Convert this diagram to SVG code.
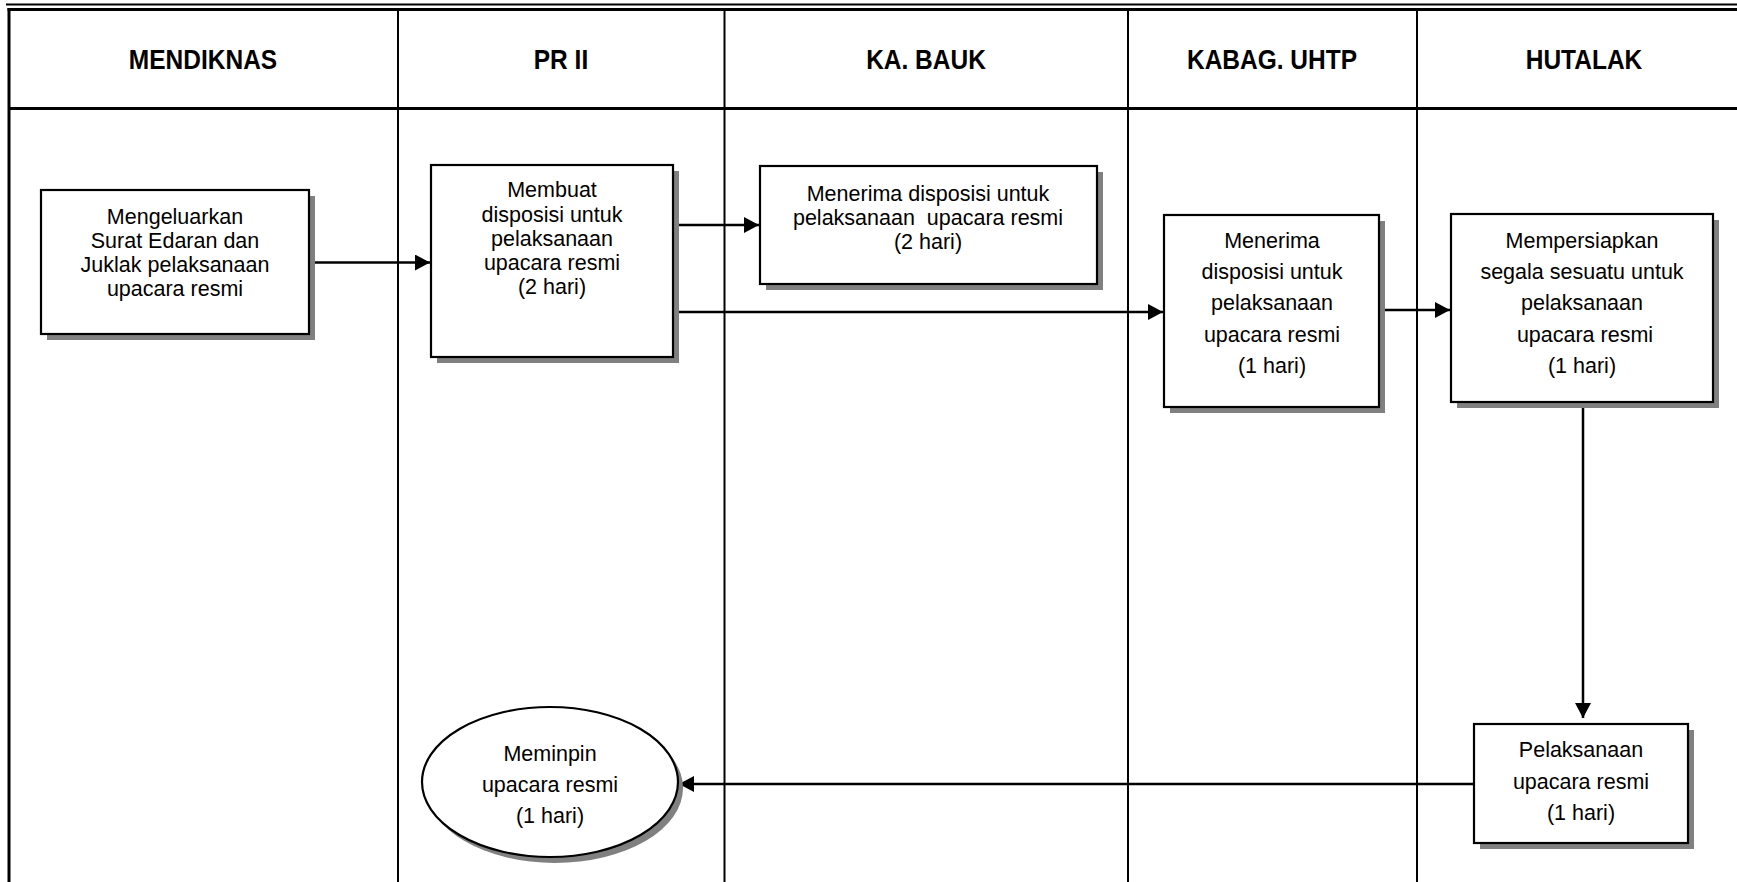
<svg xmlns="http://www.w3.org/2000/svg" width="1737" height="882" viewBox="0 0 1737 882">
  <style>
    .frame { stroke: #000; fill: none; }
    .hdr { font-family: "Liberation Sans", Arial, sans-serif; font-weight: bold; font-size: 24.5px; text-anchor: middle; fill: #000; }
    .lbl { font-family: "Liberation Sans", Arial, sans-serif; font-size: 21.5px; text-anchor: middle; fill: #000; }
    .box { fill: #fff; stroke: #000; stroke-width: 2.2; }
    .shadow { fill: #808080; stroke: none; }
    .conn { stroke: #000; stroke-width: 2.5; fill: none; marker-end: url(#arrow); }
  </style>
  <defs>
    <marker id="arrow" markerUnits="userSpaceOnUse" markerWidth="16" markerHeight="16" refX="15" refY="8" orient="auto">
      <path d="M0,0 L15,8 L0,16 Z" fill="#000"/>
    </marker>
  </defs>
  <rect width="1737" height="882" fill="#fff"/>

  <!-- swimlane table -->
  <g id="lanes">
    <line class="frame" x1="6" y1="4.5" x2="1737" y2="4.5" stroke-width="2"/>
    <line class="frame" x1="7.5" y1="9.5" x2="1737" y2="9.5" stroke-width="3"/>
    <line class="frame" x1="9" y1="8" x2="9" y2="882" stroke-width="3"/>
    <line class="frame" x1="9" y1="108.5" x2="1737" y2="108.5" stroke-width="3"/>
    <line class="frame" x1="398" y1="10" x2="398" y2="882" stroke-width="2"/>
    <line class="frame" x1="724.5" y1="10" x2="724.5" y2="882" stroke-width="2"/>
    <line class="frame" x1="1128" y1="10" x2="1128" y2="882" stroke-width="2"/>
    <line class="frame" x1="1417" y1="10" x2="1417" y2="882" stroke-width="2"/>
    <!-- lane titles, slightly stretched upright for a condensed look -->
    <text class="hdr" transform="translate(203,69) scale(1,1.12)">MENDIKNAS</text>
    <text class="hdr" transform="translate(561,69) scale(1,1.12)">PR II</text>
    <text class="hdr" transform="translate(926,69) scale(1,1.12)">KA. BAUK</text>
    <text class="hdr" transform="translate(1272,69) scale(1,1.12)">KABAG. UHTP</text>
    <text class="hdr" transform="translate(1584,69) scale(1,1.12)">HUTALAK</text>
  </g>

  <!-- connectors -->
  <g id="connectors">
    <line class="conn" x1="309" y1="262.5" x2="430" y2="262.5"/>
    <line class="conn" x1="673" y1="225" x2="759" y2="225"/>
    <line class="conn" x1="673" y1="312" x2="1163" y2="312"/>
    <line class="conn" x1="1379" y1="310" x2="1450" y2="310"/>
    <line class="conn" x1="1583" y1="402" x2="1583" y2="718"/>
    <line class="conn" x1="1474" y1="784" x2="679" y2="784"/>
  </g>

  <g id="n-mengeluarkan">
    <rect class="shadow" x="47" y="196" width="268" height="144"/>
    <rect class="box" x="41" y="190" width="268" height="144"/>
    <text class="lbl" x="175" y="224">Mengeluarkan</text>
    <text class="lbl" x="175" y="248">Surat Edaran dan</text>
    <text class="lbl" x="175" y="272">Juklak pelaksanaan</text>
    <text class="lbl" x="175" y="296">upacara resmi</text>
  </g>

  <g id="n-membuat">
    <rect class="shadow" x="437" y="171" width="242" height="192"/>
    <rect class="box" x="431" y="165" width="242" height="192"/>
    <text class="lbl" x="552" y="197">Membuat</text>
    <text class="lbl" x="552" y="222">disposisi untuk</text>
    <text class="lbl" x="552" y="246">pelaksanaan</text>
    <text class="lbl" x="552" y="270">upacara resmi</text>
    <text class="lbl" x="552" y="294">(2 hari)</text>
  </g>

  <g id="n-menerima-bauk">
    <rect class="shadow" x="766" y="172" width="337" height="118"/>
    <rect class="box" x="760" y="166" width="337" height="118"/>
    <text class="lbl" x="928" y="201">Menerima disposisi untuk</text>
    <text class="lbl" x="928" y="225" xml:space="preserve">pelaksanaan  upacara resmi</text>
    <text class="lbl" x="928" y="249">(2 hari)</text>
  </g>

  <g id="n-menerima-uhtp">
    <rect class="shadow" x="1170" y="221" width="215" height="192"/>
    <rect class="box" x="1164" y="215" width="215" height="192"/>
    <text class="lbl" x="1272" y="248">Menerima</text>
    <text class="lbl" x="1272" y="279">disposisi untuk</text>
    <text class="lbl" x="1272" y="310">pelaksanaan</text>
    <text class="lbl" x="1272" y="342">upacara resmi</text>
    <text class="lbl" x="1272" y="373">(1 hari)</text>
  </g>

  <g id="n-mempersiapkan">
    <rect class="shadow" x="1457" y="220" width="262" height="188"/>
    <rect class="box" x="1451" y="214" width="262" height="188"/>
    <text class="lbl" x="1582" y="248">Mempersiapkan</text>
    <text class="lbl" x="1582" y="279">segala sesuatu untuk</text>
    <text class="lbl" x="1582" y="310">pelaksanaan</text>
    <text class="lbl" x="1585" y="342">upacara resmi</text>
    <text class="lbl" x="1582" y="373">(1 hari)</text>
  </g>

  <g id="n-pelaksanaan">
    <rect class="shadow" x="1480" y="730" width="214" height="119"/>
    <rect class="box" x="1474" y="724" width="214" height="119"/>
    <text class="lbl" x="1581" y="757">Pelaksanaan</text>
    <text class="lbl" x="1581" y="789">upacara resmi</text>
    <text class="lbl" x="1581" y="820">(1 hari)</text>
  </g>

  <g id="n-meminpin">
    <ellipse class="shadow" cx="555" cy="788" rx="128" ry="75"/>
    <ellipse class="box" cx="550" cy="782" rx="128" ry="75"/>
    <text class="lbl" x="550" y="761">Meminpin</text>
    <text class="lbl" x="550" y="792">upacara resmi</text>
    <text class="lbl" x="550" y="823">(1 hari)</text>
  </g>
</svg>
